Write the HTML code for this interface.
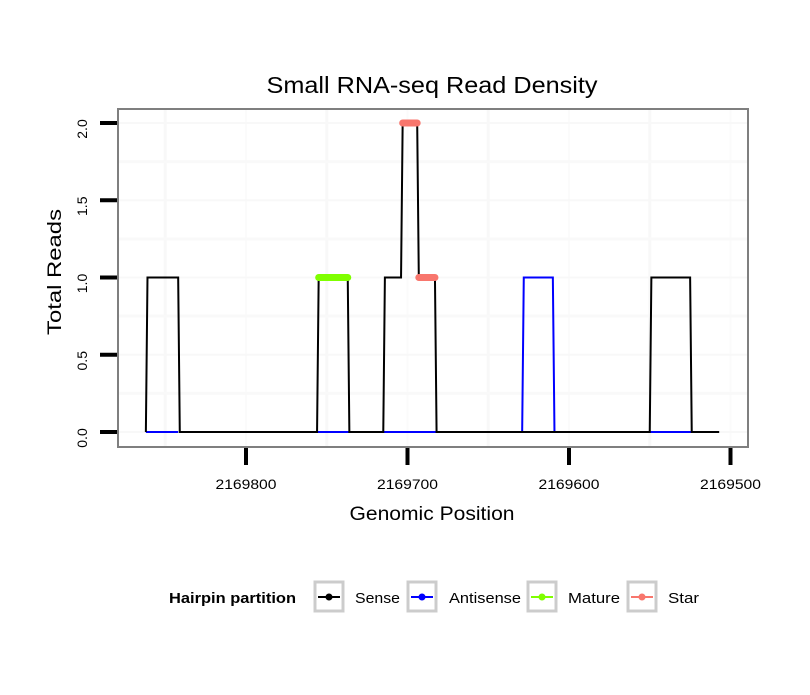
<!DOCTYPE html>
<html><head><meta charset="utf-8"><style>
body{margin:0;background:#fff;font-family:"Liberation Sans",sans-serif}
</style></head><body>
<svg width="810" height="690" xmlns="http://www.w3.org/2000/svg" font-family="Liberation Sans, sans-serif">
<rect width="810" height="690" fill="#fff"/>
<text x="432" y="93" font-size="23" text-anchor="middle" textLength="331" lengthAdjust="spacingAndGlyphs">Small RNA-seq Read Density</text>
<g id="grid"></g>
<g id="series"></g>
<rect x="118" y="109" width="630" height="338" fill="none" stroke="#7f7f7f" stroke-width="2"/>
<g id="axes"></g>
<text x="432" y="520" font-size="19" text-anchor="middle" textLength="165" lengthAdjust="spacingAndGlyphs">Genomic Position</text>
<text transform="translate(61,272) rotate(-90)" font-size="19" text-anchor="middle" textLength="126" lengthAdjust="spacingAndGlyphs">Total Reads</text>
<g id="legend">
<text x="169" y="603" font-size="15" font-weight="bold" textLength="127" lengthAdjust="spacingAndGlyphs">Hairpin partition</text>
</g>
</svg>
<script>
const xTicks=[2169800,2169700,2169600,2169500];
const yTicks=[0,0.5,1,1.5,2];
const senseX=[2169862,2169861,2169842,2169841,2169756,2169755,2169737,2169736,2169715,2169714,2169704,2169703,2169694,2169693,2169683,2169682,2169550,2169549,2169525,2169524,2169507];
const senseY=[0,1,1,0,0,1,1,0,0,1,1,2,2,1,1,0,0,1,1,0,0];
const antiX=[[2169862,2169842],[2169756,2169736],[2169715,2169682],[2169629,2169628,2169610,2169609],[2169550,2169524]];
const antiY=[[0,0],[0,0],[0,0],[0,1,1,0],[0,0]];
const matureX=[[2169755,2169737]];
const matureY=[[1,1]];
const starX=[[2169703,2169694],[2169693,2169683]];
const starY=[[2,2],[1,1]];
const NS='http://www.w3.org/2000/svg';
const sx=v=>246+(2169800-v)*1.615;
const sy=v=>432-v*154.5;
function el(t,a,p){const e=document.createElementNS(NS,t);for(const k in a)e.setAttribute(k,a[k]);p.appendChild(e);return e;}
const grid=document.getElementById('grid'),ser=document.getElementById('series'),ax=document.getElementById('axes'),lg=document.getElementById('legend');
for(let i=0;i<xTicks.length;i++){
 const gx=el('line',{x1:sx(xTicks[i]),x2:sx(xTicks[i]),y1:110,y2:446,stroke:'#fbfbfb','stroke-width':2},grid);
 
 
 const mx=sx(xTicks[i]-50);
 if(mx<747){const g2=el('line',{x1:mx,x2:mx,y1:110,y2:446,stroke:'#f8f8f8','stroke-width':3},grid);
 
 }
 const t=el('line',{x1:sx(xTicks[i]),x2:sx(xTicks[i]),y1:448,y2:465,stroke:'#000','stroke-width':4},ax);
 
 
 const lb=el('text',{x:sx(xTicks[i]),y:489,'font-size':14,'text-anchor':'middle',textLength:61,lengthAdjust:'spacingAndGlyphs'},ax);lb.textContent=xTicks[i];
 
 
}
const m2=sx(2169850);const g3=el('line',{x1:m2,x2:m2,y1:110,y2:446,stroke:'#f8f8f8','stroke-width':3},grid);


for(let i=0;i<yTicks.length;i++){
 const y=sy(yTicks[i]);
 const gy=el('line',{x1:119,x2:747,y1:y,y2:y,stroke:'#f8f8f8','stroke-width':2},grid);
 
 
 if(i<yTicks.length-1){const ym=sy(yTicks[i]+0.25);const gm=el('line',{x1:119,x2:747,y1:ym,y2:ym,stroke:'#f9f9f9','stroke-width':3},grid);
 
 }
 const t=el('line',{x1:100,x2:117,y1:y,y2:y,stroke:'#000','stroke-width':4},ax);
 
 
 const lb=el('text',{transform:`translate(87,${y+6}) rotate(-90)`,'font-size':14,'text-anchor':'middle'},ax);lb.textContent=yTicks[i].toFixed(1);
 
 
}
function path(xs,ys){return xs.map((x,i)=>(i?'L':'M')+sx(x)+','+sy(ys[i])).join(' ');}
for(let i=0;i<antiX.length;i++){const p=el('path',{d:path(antiX[i],antiY[i]),fill:'none',stroke:'#0000ff','stroke-width':2},ser);
 
 }
const sp=el('path',{d:path(senseX,senseY),fill:'none',stroke:'#000','stroke-width':2},ser);


for(let i=0;i<matureX.length;i++){const p=el('path',{d:path(matureX[i],matureY[i]),fill:'none',stroke:'#7fff00','stroke-width':7,'stroke-linecap':'round'},ser);
 
 }
for(let i=0;i<starX.length;i++){const p=el('path',{d:path(starX[i],starY[i]),fill:'none',stroke:'#f8766d','stroke-width':7,'stroke-linecap':'round'},ser);
 
 }
const leg=[['Sense','#000',313,355,45],['Antisense','#0000ff',406,449,72],['Mature','#7fff00',526,568,52],['Star','#f8766d',626,668,31]];
for(const [n,c,x,tx,tw] of leg){
 const b=el('rect',{x:x+2,y:582,width:28,height:29,fill:'#fff',stroke:'#cccccc','stroke-width':3},lg);
 
 
 el('line',{x1:x+5,x2:x+27,y1:597,y2:597,stroke:c,'stroke-width':2},lg);
 el('circle',{cx:x+16,cy:597,r:3.5,fill:c},lg);
 const t=el('text',{x:tx,y:603,'font-size':15,textLength:tw,lengthAdjust:'spacingAndGlyphs'},lg);t.textContent=n;
 
 
}
</script>
</body></html>
